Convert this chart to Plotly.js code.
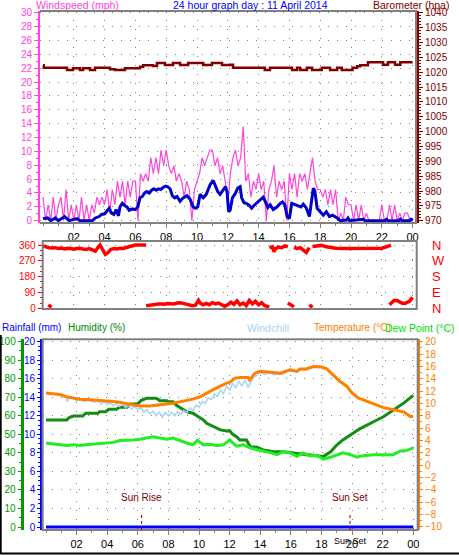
<!DOCTYPE html>
<html><head><meta charset="utf-8">
<script src="https://cdn.plot.ly/plotly-3.0.1.min.js"></script>
<style>html,body{margin:0;padding:0;background:#fff;}#chart{width:459px;height:555px;}</style>
</head><body><div id="chart"></div>
<script>
// ---------- tick labels ----------
const hourTicks = [2,4,6,8,10,12,14,16,18,20,22,24];
const hourLabels = ['02','04','06','08','10','12','14','16','18','20','22','00'];
const dirTicks = [0,90,180,270,360];
const dirLetters = ['N','E','S','W','N'];

// ---------- top panel: wind speed (mph), 10-minute gust readings ----------
const gustSpeed = [
 3.4,0,2.3,0,3.4,0,
 2.3,3.4,0,4.5,0,2.3,
 0,2.3,0,3.4,0,2.3,
 0,2.3,1.1,3.4,2.3,3.4,
 2.3,4.5,1.1,4.5,2.3,5.7,
 3.4,5.7,2.3,5.7,3.4,5.7,
 5.7,0,6.8,5.7,6.8,5.7,
 9.1,6.8,9.1,6.8,10.2,7.9,
 10.2,7.9,6.8,7.9,5.7,6.8,
 5.7,3.4,5.7,4.5,0,4.5,
 5.7,6.8,9.1,7.9,9.1,10.2,
 10.2,7.9,9.1,6.8,7.9,5.7,
 2.3,6.8,9.1,10.2,7.9,9.1,
 13.6,5.7,6.8,3.4,5.7,4.5,
 6.8,4.5,5.7,0,4.5,5.7,
 7.9,3.4,5.7,4.5,5.7,0,
 6.8,4.5,6.8,3.4,6.8,5.7,
 6.8,4.5,6.8,9.1,5.7,4.5,
 4.5,3.4,4.5,2.3,4.5,2.3,
 4.5,0,1.1,0,3.4,2.3,
 2.3,0,2.3,0,2.3,0,
 1.1,0,0,0,0,0,
 2.3,0,0,2.3,0,2.3,
 0,1.1,0,1.1,1.1,0,
 0];
const gustTimes = gustSpeed.map((v,i)=>i/6);

const avgTimes = [0.0,0.3,0.5,0.8,1.0,1.4,1.5,1.7,2.2,2.4,3.2,3.4,3.65,3.8,4.0,4.2,4.3,4.45,4.6,4.75,4.9,5.0,5.15,5.3,5.45,5.6,5.8,6.0,6.15,6.3,6.45,6.6,6.75,6.9,7.05,7.2,7.35,7.5,7.65,7.8,7.95,8.1,8.25,8.4,8.55,8.7,8.9,9.1,9.35,9.55,9.75,9.9,10.05,10.2,10.4,10.6,10.85,11.05,11.2,11.35,11.5,11.7,11.85,11.95,12.05,12.15,12.3,12.5,12.65,12.8,12.9,13.05,13.2,13.4,13.55,13.7,13.9,14.1,14.3,14.45,14.6,14.75,14.95,15.2,15.4,15.55,15.7,15.85,16.0,16.15,16.35,16.55,16.75,16.9,17.1,17.3,17.45,17.55,17.65,17.8,18.0,18.2,18.4,18.6,18.8,19.1,19.3,19.7,19.8,19.9,20.8,20.9,22.2,22.3,22.4,23.1,23.2,23.3,23.8,23.9,24.0];
const avgSpeed = [0.3,0.4,0.0,0.4,0.0,0.6,0.4,0.0,0.3,0.0,0.0,0.4,0.6,0.9,1.0,1.5,1.8,1.1,0.9,1.6,0.7,2.0,2.5,2.2,2.0,1.5,1.7,1.6,2.0,3.3,3.5,4.0,4.2,4.0,4.4,4.6,4.4,4.6,4.5,4.8,5.0,4.9,4.6,3.6,3.3,3.5,2.8,3.3,3.6,3.1,2.0,1.8,2.0,3.8,3.3,3.8,5.2,5.8,5.0,4.2,3.8,4.5,4.9,4.2,1.3,1.5,3.3,4.0,4.7,4.9,3.3,2.6,2.5,2.2,1.8,2.2,2.6,2.9,3.4,2.7,1.9,2.3,1.6,2.0,2.5,2.7,2.3,0.6,0.3,2.5,2.3,2.2,2.0,2.4,1.8,0.6,3.2,4.7,4.3,1.8,1.3,0.8,1.3,0.6,0.8,0.4,0.0,0.1,0.4,0.0,0.2,0.0,0.0,0.2,0.0,0.0,0.2,0.0,0.0,0.2,0.0];

// ---------- top panel: barometer (hPa) ----------
const baroTimes = [0.0,0.05,1.56,1.95,2.4,2.6,3.05,3.38,4.35,4.68,5.32,6.3,6.5,7.14,7.4,7.92,8.44,8.9,9.42,10.4,10.97,11.62,12.14,12.34,14.4,14.74,16.17,16.5,16.7,17.14,17.47,18.1,18.64,19.1,19.4,20.1,20.4,20.6,21.1,22.08,22.4,22.86,23.2,24.0];
const baroValues = [1022.3,1021.5,1020.7,1021.3,1020.7,1021.3,1020.7,1021.5,1021.0,1020.7,1021.3,1021.8,1022.3,1022.1,1023.1,1022.4,1023.1,1022.4,1023.1,1022.4,1023.1,1022.4,1022.5,1021.5,1020.7,1021.5,1020.7,1021.5,1020.7,1021.5,1020.7,1021.5,1020.7,1021.5,1020.7,1021.5,1022.0,1022.3,1023.3,1022.5,1023.3,1022.5,1023.3,1023.3];

// ---------- middle panel: wind direction (degrees), null = wrap-around ----------
const dirTimes = [
 0.0,0.2,0.4,0.6,0.8,1.0,1.2,1.4,1.6,1.8,2.0,2.2,2.4,2.6,2.8,3.0,3.2,3.4,3.6,3.7,3.8,3.9,4.05,4.2,4.4,4.6,4.8,5.0,5.2,5.4,5.6,5.8,6.0,6.2,6.4,6.7, null,
 0.35,0.45,0.55, null,
 6.7,6.9,7.1,7.3,7.5,7.7,7.9,8.1,8.3,8.5,8.7,8.9,9.1,9.3,9.5,9.7,9.9,10.1,10.2,10.4,10.6,10.8,11.0,11.2,11.4,11.6,11.8,12.0,12.2,12.4,12.6,12.8,13.0,13.2,13.4,13.6,13.8,14.0,14.2,14.4,14.6,14.7, null,
 14.7,14.9,15.0,15.1,15.3,15.5,15.7,15.9, null,
 15.9,16.1,16.3, null,
 16.3,16.5,16.7,16.9,17.1,17.3, null,
 17.3,17.5, null,
 17.5,17.8,18.1,18.4,18.7,19.0,19.5,20.0,20.5,21.0,21.5,22.0,22.3,22.6, null,
 22.5,22.8,23.0,23.3,23.5,23.8,24.0];
const dirValues = [
 355,348,345,343,345,340,343,338,342,340,336,340,342,338,335,340,333,325,350,360,345,325,307,315,335,340,338,342,340,346,350,358,360,360,360,360, null,
 20,12,5, null,
 15,18,20,22,25,24,23,27,28,24,30,32,28,24,18,15,18,45,30,20,28,20,32,25,30,18,12,20,35,22,42,20,30,15,45,25,40,20,32,15,12,8, null,
 345,350,322,340,348,345,355,350, null,
 30,20,8, null,
 348,340,345,330,318,345, null,
 20,5, null,
 352,355,358,350,345,342,341,342,343,341,342,342,350,360, null,
 20,45,45,30,28,40,62];

// ---------- bottom panel ----------
const tempTimes = [0.0,0.5,0.9,1.35,1.8,2.2,2.9,3.5,3.9,4.4,4.8,5.3,5.7,6.15,6.8,7.45,7.9,8.3,8.8,9.2,9.6,10.1,10.5,10.9,11.4,11.8,12.0,12.35,12.7,13.2,13.3,13.65,14.0,14.6,15.3,15.95,16.4,16.6,17.0,17.5,18.0,18.35,18.8,19.2,19.65,20.0,20.4,20.85,21.4,22.1,22.7,23.4,23.8,24.0];
const tempValues = [11.7,11.5,11.45,11.1,10.9,10.7,10.6,10.5,10.5,10.3,10.2,9.9,9.75,9.6,9.6,9.8,9.9,10.05,10.3,10.5,10.7,11.1,11.7,12.2,12.8,13.3,13.4,14.1,14.2,14.2,13.8,14.9,15.2,15.1,14.9,15.45,15.2,15.6,15.6,16.0,15.9,15.6,14.5,13.6,12.8,11.7,10.9,10.5,10.0,9.3,9.0,8.6,7.9,7.9];

const chillTimes = [0.0,0.5,1.0,1.3,1.4,1.5,1.8,2.0,2.2,2.5,2.8,3.1,3.4,3.6,3.8,4.0,4.2,4.4,4.6,4.8,5.0,5.2,5.4,5.6,5.8,6.0,6.2,6.4,6.6,6.8,7.0,7.2,7.4,7.6,7.8,8.0,8.2,8.4,8.6,8.8,9.0,9.2,9.4,9.6,9.8,10.0,10.2,10.4,10.6,10.8,11.0,11.2,11.4,11.6,11.8,12.0,12.2,12.4,12.6,12.8,13.0,13.2,13.4,13.6,13.8,14.0,14.3,14.6,14.9,15.2,15.5,15.8,16.1,16.4,16.7,17.0,17.3,17.6,17.9,18.35];
const chillValues = [11.7,11.5,11.4,11.2,10.3,11.0,10.9,10.4,10.7,10.3,10.6,10.2,10.4,9.9,10.3,9.8,10.1,9.6,10.0,9.5,9.9,9.3,9.7,9.1,9.5,9.0,9.3,8.6,9.0,8.3,8.8,8.0,8.6,7.8,8.5,8.0,8.6,8.0,8.7,8.2,8.9,8.5,9.3,8.9,9.7,9.4,10.3,10.0,10.9,10.6,11.5,11.1,12.2,11.6,12.8,12.2,13.3,12.5,13.6,12.8,13.8,12.6,13.5,14.3,14.6,15.0,14.7,15.0,14.6,14.8,14.7,15.3,15.2,15.1,15.5,15.4,15.7,15.8,16.0,15.6];

const humTimes = [0.0,1.35,1.5,1.8,2.4,2.6,3.4,3.5,3.9,4.1,4.6,4.8,5.3,5.5,6.0,6.2,6.6,7.2,7.45,7.9,8.0,8.3,8.5,8.8,9.2,9.6,10.1,10.3,10.5,10.9,11.4,11.8,12.0,12.2,12.45,12.67,13.1,13.35,13.8,14.2,14.9,15.5,16.4,17.0,17.7,18.1,18.6,19.0,19.4,19.9,20.5,21.4,22.05,22.7,23.35,24.0];
const humValues = [57.7,57.7,59.0,59.9,59.9,61.4,61.4,62.2,62.2,63.5,63.5,64.6,64.6,66.4,66.4,68.2,69.5,69.5,68.2,68.2,67.6,67.6,65.8,64.1,62.2,61.4,58.7,57.7,56.0,54.2,52.4,51.8,52.0,50.0,48.7,47.0,47.0,43.3,43.0,41.5,40.6,40.6,39.8,38.9,38.3,38.0,40.6,44.2,47.0,49.7,53.0,56.8,59.5,63.1,66.7,71.0];

const dewTimes = [0.0,0.5,0.9,1.35,1.8,2.2,2.6,3.9,4.4,4.84,5.3,5.7,6.15,6.6,7.0,7.45,7.9,8.3,8.8,9.2,9.6,9.9,10.3,10.7,11.15,11.6,12.0,12.45,12.9,13.35,13.8,14.2,14.7,15.1,15.5,15.95,16.4,16.8,17.25,17.7,18.1,18.6,19.0,19.4,19.9,20.3,20.75,21.4,22.05,22.7,23.15,23.6,24.0];
const dewValues = [3.6,3.45,3.45,3.2,3.3,3.2,3.3,3.6,3.7,4.0,4.0,4.1,4.2,4.4,4.6,4.4,4.2,4.4,3.9,3.6,3.3,4.0,3.3,3.4,3.2,3.3,4.1,3.1,3.3,2.8,2.5,2.3,2.0,1.7,2.2,2.0,1.45,2.0,1.5,1.6,1.0,1.3,1.7,2.0,1.7,1.3,1.55,1.7,1.7,1.7,2.3,2.4,2.8];

const rainTimes = [0,6,12,18,24];
const rainValues = [0,0,0,0,0];

const sunRise = 6.25;
const sunSet = 19.87;

// ---------- layout helpers (pixel -> paper) ----------
const W = 459, H = 555;
const px = x => x / W;
const py = y => 1 - y / H;

const FONT = 'Liberation Sans, Arial, sans-serif';
const GRID = '#808080';
const DOTS = '1px,8px';
const PINK = '#ff44dd', DKRED = '#800000', RED = '#ff0000';
const ORANGE = '#ff8000', DKGREEN = '#128c12', LTGREEN = '#22ee22', LTBLUE = '#a8d4f4';
const YFS = 10;

const traces = [
  {x: gustTimes, y: gustSpeed, xaxis:'x', yaxis:'y', mode:'lines', line:{color:PINK, width:1.2}},
  {x: avgTimes, y: avgSpeed, xaxis:'x', yaxis:'y', mode:'lines', line:{color:'#0000cc', width:3}},
  {x: baroTimes, y: baroValues, xaxis:'x', yaxis:'y2', mode:'lines', line:{color:DKRED, width:2.5, shape:'hv'}},
  {x: dirTimes, y: dirValues, xaxis:'x2', yaxis:'y3', mode:'lines', line:{color:RED, width:3.5}},
  {x: [], y: [], xaxis:'x2', yaxis:'y4', mode:'lines'},
  {x: humTimes, y: humValues, xaxis:'x3', yaxis:'y5', mode:'lines', line:{color:DKGREEN, width:3}},
  {x: rainTimes, y: rainValues, xaxis:'x3', yaxis:'y6', mode:'lines', line:{color:'#0000ff', width:3}},
  {x: chillTimes, y: chillValues, xaxis:'x3', yaxis:'y7', mode:'lines', line:{color:LTBLUE, width:1.5}},
  {x: dewTimes, y: dewValues, xaxis:'x3', yaxis:'y7', mode:'lines', line:{color:LTGREEN, width:3}},
  {x: tempTimes, y: tempValues, xaxis:'x3', yaxis:'y7', mode:'lines', line:{color:ORANGE, width:3}}
];

function hourAxis(domain, range, anchor, showLabels) {
  const ax = {
    domain: domain, range: range, anchor: anchor,
    tickmode:'array', tickvals: hourTicks, ticktext: hourLabels,
    showticklabels: showLabels, ticks: showLabels ? 'outside' : '', ticklen:4, tickcolor:GRID,
    tickfont:{family:FONT, size:11, color:'#000'},
    showgrid:true, gridcolor:GRID, gridwidth:1, griddash:DOTS,
    showline:false, zeroline:false
  };
  if (showLabels) ax.minor = {tickmode:'linear', tick0:0, dtick:1, ticklen:2, tickcolor:GRID, ticks:'outside', showgrid:false};
  return ax;
}

const layout = {
  width: W, height: H, margin:{l:0,r:0,t:0,b:0},
  paper_bgcolor:'#fff', plot_bgcolor:'#fff', showlegend:false, hovermode:false,
  font:{family:FONT, size:11},
  xaxis: hourAxis([px(40), px(416)], [-0.195, 24.22], 'y', true),
  yaxis: {domain:[py(223), py(11)], range:[-0.33, 30.25], anchor:'x',
    tickmode:'linear', tick0:0, dtick:2, ticks:'outside', ticklen:4, tickcolor:PINK,
    tickfont:{family:FONT, size:YFS, color:PINK},
    showline:true, linecolor:PINK, linewidth:2,
    showgrid:true, gridcolor:GRID, griddash:DOTS, zeroline:false,
    minor:{tickmode:'linear', tick0:0, dtick:1, ticklen:2, tickcolor:PINK, ticks:'outside', showgrid:false}},
  yaxis2: {overlaying:'y', side:'right', anchor:'free', position:px(418),
    range:[969.23, 1040.58], tickmode:'linear', tick0:970, dtick:5,
    ticks:'outside', ticklen:4, tickcolor:DKRED, tickfont:{family:FONT, size:YFS, color:DKRED},
    showline:true, linecolor:DKRED, linewidth:2, showgrid:false, zeroline:false,
    minor:{tickmode:'linear', tick0:970, dtick:1, ticklen:2, tickcolor:DKRED, ticks:'outside', showgrid:false}},

  xaxis2: hourAxis([px(42.7), px(416.7)], [-0.02, 24.27], 'y3', false),
  yaxis3: {domain:[py(309), py(241)], range:[-4, 383], anchor:'x2',
    tickmode:'array', tickvals:dirTicks, ticks:'outside', ticklen:4, tickcolor:RED,
    tickfont:{family:FONT, size:YFS, color:RED},
    showline:false, showgrid:true, gridcolor:GRID, griddash:DOTS, zeroline:false,
    minor:{tickmode:'linear', tick0:0, dtick:30, ticklen:2, tickcolor:RED, ticks:'outside', showgrid:false}},
  yaxis4: {overlaying:'y3', side:'right', anchor:'free', position:px(431),
    range:[-4, 383], tickmode:'array', tickvals:dirTicks, ticktext:dirLetters,
    ticks:'', tickfont:{family:FONT, size:13, color:RED},
    showline:false, showgrid:false, zeroline:false},

  xaxis3: hourAxis([px(42.7), px(417.7)], [-0.216, 24.29], 'y5', true),
  yaxis5: {domain:[py(530), py(339.3)], range:[-1.62, 101.3], anchor:'free', position:px(21.7), side:'left',
    tickmode:'linear', tick0:0, dtick:10, ticks:'outside', ticklen:3, tickcolor:'#009900',
    tickfont:{family:FONT, size:YFS, color:'#009900'},
    showline:true, linecolor:'#009900', linewidth:3,
    showgrid:true, gridcolor:GRID, griddash:DOTS, zeroline:false,
    minor:{tickmode:'linear', tick0:0, dtick:5, ticklen:2, tickcolor:'#009900', ticks:'outside', showgrid:false}},
  yaxis6: {overlaying:'y5', side:'left', anchor:'free', position:px(41.2),
    range:[-0.324, 20.26], tickmode:'linear', tick0:0, dtick:2,
    ticks:'outside', ticklen:3, tickcolor:'#0000ff', tickfont:{family:FONT, size:YFS, color:'#0000ff'},
    showline:true, linecolor:'#0000ff', linewidth:2, showgrid:false, zeroline:false,
    minor:{tickmode:'linear', tick0:0, dtick:0.5, ticklen:2, tickcolor:'#0000ff', ticks:'outside', showgrid:false}},
  yaxis7: {overlaying:'y5', side:'right', anchor:'free', position:px(419),
    range:[-10.49, 20.39], tickmode:'linear', tick0:-10, dtick:2,
    ticks:'outside', ticklen:3, tickcolor:ORANGE, tickfont:{family:FONT, size:YFS, color:ORANGE},
    showline:true, linecolor:ORANGE, linewidth:2, showgrid:false, zeroline:false,
    minor:{tickmode:'linear', tick0:-10, dtick:1, ticklen:2, tickcolor:ORANGE, ticks:'outside', showgrid:false}},

  shapes: [
    {type:'path', xref:'x domain', yref:'y domain', path:'M0,1 L1,1 L1,0 L0,0', line:{color:GRID, width:2}, layer:'above'},
    {type:'rect', xref:'x2 domain', yref:'y3 domain', x0:0, x1:1, y0:0, y1:1, line:{color:GRID, width:2}, layer:'above'},
    {type:'rect', xref:'x3 domain', yref:'y5 domain', x0:0, x1:1, y0:0, y1:1, line:{color:GRID, width:2}, layer:'above'},
    {type:'line', xref:'x3', yref:'y5 domain', x0:sunRise, x1:sunRise, y0:0, y1:0.09, line:{color:DKRED, width:1, dash:'dot'}},
    {type:'line', xref:'x3', yref:'y5 domain', x0:sunSet, x1:sunSet, y0:0, y1:0.09, line:{color:DKRED, width:1, dash:'dot'}},
    {type:'line', xref:'paper', yref:'paper', x0:px(0.7), x1:px(0.7), y0:py(335), y1:py(554), line:{color:'#000', width:2}},
    {type:'line', xref:'paper', yref:'paper', x0:0, x1:1, y0:py(553.5), y1:py(553.5), line:{color:'#000', width:2}}
  ],

  annotations: [
    {text:'Windspeed (mph)', xref:'paper', yref:'paper', x:px(34), y:py(4.5), xanchor:'left', yanchor:'middle', showarrow:false, font:{family:FONT, size:10.5, color:PINK}},
    {text:'24 hour graph day : 11 April 2014', xref:'paper', yref:'paper', x:px(171), y:py(4.5), xanchor:'left', yanchor:'middle', showarrow:false, font:{family:FONT, size:10.5, color:'#0000ff'}},
    {text:'Barometer (hpa)', xref:'paper', yref:'paper', x:px(371), y:py(4.5), xanchor:'left', yanchor:'middle', showarrow:false, font:{family:FONT, size:10.5, color:DKRED}},
    {text:'Rainfall (mm)', xref:'paper', yref:'paper', x:px(-0.5), y:py(327.5), xanchor:'left', yanchor:'middle', showarrow:false, font:{family:FONT, size:10, color:'#0000ff'}},
    {text:'Humidity (%)', xref:'paper', yref:'paper', x:px(66), y:py(327.5), xanchor:'left', yanchor:'middle', showarrow:false, font:{family:FONT, size:10, color:'#008800'}},
    {text:'Windchill', xref:'paper', yref:'paper', x:px(245), y:py(327.5), xanchor:'left', yanchor:'middle', showarrow:false, font:{family:FONT, size:10.5, color:LTBLUE}},
    {text:'Temperature (°C)', xref:'paper', yref:'paper', x:px(312), y:py(327.5), xanchor:'left', yanchor:'middle', showarrow:false, font:{family:FONT, size:10, color:ORANGE}},
    {text:'Dew Point (°C)', xref:'paper', yref:'paper', x:px(383), y:py(327.5), xanchor:'left', yanchor:'middle', showarrow:false, font:{family:FONT, size:10.5, color:'#00dd00'}},
    {text:'Sun Rise', xref:'x3', yref:'paper', x:sunRise, y:py(497.5), xanchor:'center', yanchor:'middle', showarrow:false, font:{family:FONT, size:10, color:DKRED}},
    {text:'Sun Set', xref:'x3', yref:'paper', x:sunSet, y:py(497.5), xanchor:'center', yanchor:'middle', showarrow:false, font:{family:FONT, size:10, color:DKRED}},
    {text:'Sun Set', xref:'x3', yref:'paper', x:sunSet, y:py(541), xanchor:'center', yanchor:'middle', showarrow:false, font:{family:FONT, size:9, color:'#000'}}
  ]
};

Plotly.newPlot('chart', traces, layout, {staticPlot:true, displayModeBar:false});
</script>
</body></html>
